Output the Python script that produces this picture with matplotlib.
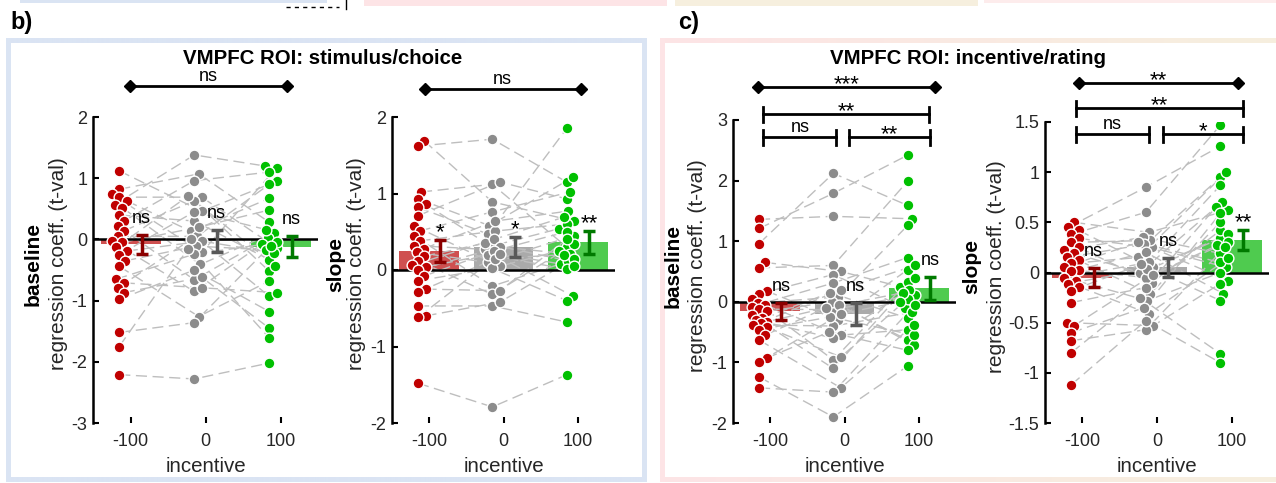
import numpy as np
import matplotlib.pyplot as plt
from matplotlib.transforms import blended_transform_factory

plt.rcParams['font.family'] = ['Liberation Sans', 'DejaVu Sans']

W, H = 1276, 483

# x categories
incentive = [-100, 0, 100]
incentive_labels = ['-100', '0', '100']

# b) VMPFC ROI stimulus/choice, baseline coefficient per subject (t-val)
stim_base_neg = [1.12, 0.82, 0.74, 0.69, 0.63, 0.57, 0.52, 0.4, 0.3, 0.22, 0.14, 0.05, -0.03, -0.05,
                 -0.13, -0.19, -0.25, -0.35, -0.44, -0.65, -0.71, -0.79, -0.87, -0.98, -1.52, -1.75, -2.21]
stim_base_neu = [0.46, 1.07, -0.21, 0.69, 0.13, 1.38, -0.41, 0.3, 0.96, -0.66, 0.63, 0.05, -0.85, 0.2,
                 0.71, -0.03, 0.45, -0.11, -1.26, -0.24, -0.79, 0.0, -0.62, -0.5, -1.36, -0.15, -2.28]
stim_base_pos = [0.95, 0.28, 1.17, -0.14, 0.67, 1.2, 0.11, -0.33, 1.1, 0.02, -0.52, 0.9, -0.08, 0.48,
                 -0.43, -0.93, 0.16, -0.17, -0.68, -0.05, -0.87, -0.22, -1.45, -1.18, -0.1, -1.61, -2.02]
stim_base_mean = [-0.08, -0.03, -0.12]
stim_base_sem = [0.16, 0.18, 0.17]
stim_base_sig = ['ns', 'ns', 'ns']

# b) slope coefficient
stim_slope_neg = [1.69, 1.62, 1.02, 0.93, 0.86, 0.82, 0.71, 0.58, 0.51, 0.45, 0.38, 0.32, 0.28, 0.23,
                  0.18, 0.12, 0.06, 0.04, 0.0, -0.08, -0.14, -0.25, -0.29, -0.47, -0.6, -0.62, -1.48]
stim_slope_neu = [0.89, 1.71, 1.12, 0.58, 0.31, 0.47, 1.15, 0.05, 0.76, -0.21, 0.51, 0.27, 0.64, 0.1,
                  0.35, -0.32, 0.4, 0.2, 0.3, 0.25, 0.02, -0.27, 0.15, -0.47, -0.42, 0.21, -1.79]
stim_slope_pos = [0.64, 1.15, 0.3, 1.21, 0.54, 1.85, 0.93, 0.25, 1.02, 0.08, 0.6, -0.34, 0.77, 0.45,
                  0.12, 0.34, 0.69, 0.01, 0.21, 0.5, -0.4, 0.4, 0.2, -0.68, 0.15, 0.05, -1.37]
stim_slope_mean = [0.245, 0.3, 0.36]
stim_slope_sem = [0.145, 0.135, 0.145]
stim_slope_sig = ['*', '*', '**']

# c) VMPFC ROI incentive/rating, baseline coefficient
rate_base_neg = [1.36, 1.21, 0.96, 0.65, 0.56, 0.18, 0.13, 0.05, -0.02, -0.05, -0.08, -0.12, -0.16, -0.22,
                 -0.27, -0.3, -0.33, -0.35, -0.38, -0.42, -0.46, -0.55, -0.63, -0.93, -1.0, -1.24, -1.42]
rate_base_neu = [1.41, 1.79, 2.12, 0.5, 0.6, -0.3, 0.45, -0.96, 0.08, -0.55, 0.31, -0.13, 0.0, -1.1,
                 0.15, -0.6, -0.05, 0.2, -0.4, -0.91, -0.25, -0.1, -1.42, -0.5, -0.2, -1.9, -1.49]
rate_base_pos = [1.37, 2.42, 1.59, 0.25, 1.99, 0.53, -0.1, 0.33, 1.26, -0.46, 0.73, 0.12, -0.63, 0.4,
                 -0.27, 0.2, -0.71, 0.6, -0.17, 0.05, -0.55, 0.15, -0.38, -0.8, 0.0, -1.06, -0.05]
rate_base_mean = [-0.16, -0.2, 0.22]
rate_base_sem = [0.14, 0.18, 0.19]
rate_base_sig = ['ns', 'ns', 'ns']

# c) slope coefficient
rate_slope_neg = [0.5, 0.45, 0.42, 0.38, 0.34, 0.3, 0.25, 0.22, 0.19, 0.15, 0.12, 0.09, 0.05, 0.02,
                  0.01, -0.05, -0.08, -0.11, -0.14, -0.18, -0.3, -0.5, -0.53, -0.6, -0.68, -0.8, -1.12]
rate_slope_neu = [0.4, 0.85, 0.05, 0.6, 0.25, 0.32, -0.1, 0.35, 0.0, 0.28, -0.21, 0.15, 0.3, -0.05,
                  0.2, 0.1, -0.28, 0.03, -0.41, 0.08, -0.15, -0.53, -0.02, -0.35, -0.57, -0.25, -0.48]
rate_slope_pos = [0.62, 1.26, 0.34, 1.47, 0.05, 0.95, 0.42, 0.19, 0.7, -0.08, 0.5, 1.0, 0.1, 0.27,
                  -0.21, 0.87, 0.0, 0.38, 0.14, -0.28, 0.65, -0.11, 0.3, 0.59, 0.25, -0.81, -0.9]
rate_slope_mean = [-0.05, 0.05, 0.32]
rate_slope_sem = [0.09, 0.09, 0.1]
rate_slope_sig = ['ns', 'ns', '**']

dot_colors = ['#c00000', '#8c8c8c', '#00c000']
bar_colors = ['#cf5050', '#aaaaaa', '#4fcb4f']
err_colors = ['#8b0000', '#595959', '#007a00']

fig = plt.figure(figsize=(W / 100, H / 100), dpi=100)

# background layer in pixel coordinates (frames and strips)
bg = fig.add_axes([0, 0, 1, 1], zorder=-10)
bg.axis('off')

img = np.zeros((H, W, 4))


def frame(x0, x1, y0, y1, t, c_left, c_right, right_edge=True):
    frac = np.linspace(0, 1, x1 - x0)[:, None]
    cols = (1 - frac) * np.array(c_left) / 255 + frac * np.array(c_right) / 255
    for ya, yb in [(y0, y0 + t), (y1 - t, y1)]:
        img[ya:yb, x0:x1, :3] = cols[None, :, :]
        img[ya:yb, x0:x1, 3] = 1
    img[y0:y1, x0:x0 + t, :3] = np.array(c_left) / 255
    img[y0:y1, x0:x0 + t, 3] = 1
    if right_edge:
        img[y0:y1, x1 - t:x1, :3] = np.array(c_right) / 255
        img[y0:y1, x1 - t:x1, 3] = 1


def strip(x0, x1, y0, y1, c):
    img[y0:y1, x0:x1, :3] = np.array(c) / 255
    img[y0:y1, x0:x1, 3] = 1


frame(6, 647, 38, 482, 5, (218, 228, 243), (218, 228, 243))
frame(660, 1276, 38, 482, 5, (253, 228, 230), (246, 239, 222), right_edge=False)
strip(20, 327, 0, 3, (218, 228, 243))
strip(364, 667, 0, 6, (253, 228, 230))
strip(675, 978, 0, 6, (246, 239, 222))
strip(984, 1276, 0, 3, (253, 236, 236))
bg.imshow(img, extent=(0, W, H, 0), interpolation='nearest', aspect='auto')
bg.plot([286, 339], [7, 7], color='k', lw=1, dashes=(3, 3))
bg.plot([346, 346], [0, 9], color='k', lw=1)
bg.set_xlim(0, W)
bg.set_ylim(H, 0)


def swarm_x(ax, xc, ys, min_d=7.5, step=1.5, max_off=7.5):
    p0 = ax.transData.transform((xc, 0))
    p1 = ax.transData.transform((xc + 1, 1))
    sx, sy = p1[0] - p0[0], p1[1] - p0[1]
    py = np.asarray(ys) * sy
    cands = [0.0]
    k = 1
    while k * step <= max_off:
        cands += [k * step, -k * step]
        k += 1
    off = np.zeros(len(ys))
    placed = []
    for i in np.argsort(py):
        best, best_d = 0.0, -1.0
        for c in cands:
            d = min((np.hypot(c - ox, py[i] - oy) for ox, oy in placed), default=1e9)
            if d >= min_d:
                best = c
                break
            if d > best_d:
                best, best_d = c, d
        off[i] = best
        placed.append((best, py[i]))
    return xc + off / sx


def draw_panel(box, ylim, yticks, ylabels, groups, means, sems, sig, name, lab_x):
    left, top, right, bottom = box
    ax = fig.add_axes([left / W, 1 - bottom / H, (right - left) / W, (bottom - top) / H])
    ax.set_xlim(-150, 150)
    ax.set_ylim(*ylim)
    ax.patch.set_alpha(0)
    for s in ['top', 'right', 'bottom']:
        ax.spines[s].set_visible(False)
    ax.spines['left'].set_linewidth(1.8)
    ax.set_xticks(incentive)
    ax.set_xticklabels(incentive_labels)
    ax.set_yticks(yticks)
    ax.set_yticklabels(ylabels)
    ax.tick_params(direction='in', length=4, width=1.5, labelsize=13, labelcolor='#262626')
    ax.tick_params(axis='y', pad=4)
    ax.tick_params(axis='x', pad=7)
    ax.set_xlabel('incentive', fontsize=14.8, labelpad=5, color='#262626')

    ax.bar(incentive, means, width=80, color=bar_colors, zorder=1)
    ax.axhline(0, color='k', lw=1.8, zorder=2.5)
    xs = [swarm_x(ax, x - 15, g) for x, g in zip(incentive, groups)]
    for i in range(len(groups[0])):
        ax.plot([xs[0][i], xs[1][i], xs[2][i]], [groups[0][i], groups[1][i], groups[2][i]],
                color='#bebebe', lw=1, dashes=(8, 4), zorder=2)
    for x, g, c in zip(xs, groups, dot_colors):
        ax.scatter(x, g, s=60, color=c, edgecolors='white', linewidths=1, zorder=3)
    for x, m, e, c, t in zip(incentive, means, sems, err_colors, sig):
        ax.errorbar(x + 15, m, yerr=e, fmt='none', ecolor=c, elinewidth=2.5,
                    capsize=4.5, capthick=2.5, zorder=4)
        ax.annotate(t, (x + 15, m + e), xytext=(0, 12 if t == 'ns' else 2),
                    textcoords='offset pixels', ha='center', va='baseline',
                    fontsize=13 if t == 'ns' else 16, zorder=5)

    yc = (top + bottom) / 2 - 6
    fig.text(lab_x[0] / W, 1 - yc / H, name, rotation=90, ha='center', va='center',
             fontsize=15, fontweight='bold')
    fig.text(lab_x[1] / W, 1 - yc / H, 'regression coeff. (t-val)', rotation=90,
             ha='center', va='center', fontsize=15, color='#262626')
    return ax


def bracket(ax, x1, x2, y, text, kind):
    tr = blended_transform_factory(ax.transData, bg.transData)
    ax.plot([x1, x2], [y, y], color='k', lw=2, transform=tr, clip_on=False, zorder=6)
    if kind == 'diamond':
        ax.plot([x1, x2], [y, y], ls='none', marker='D', ms=6, color='k',
                transform=tr, clip_on=False, zorder=6)
    else:
        for x in (x1, x2):
            ax.plot([x, x], [y - 7, y + 8], color='k', lw=2, transform=tr,
                    clip_on=False, zorder=6)
    stars = text != 'ns'
    ax.text((x1 + x2) / 2, y - (-3 if stars else 5), text, transform=tr, ha='center',
            va='baseline', fontsize=16 if stars else 13, zorder=6)


ax1 = draw_panel((93, 117, 318, 423), (-3, 2), [-3, -2, -1, 0, 1, 2],
                 ['-3', '-2', '-1', '0', '1', '2'],
                 [stim_base_neg, stim_base_neu, stim_base_pos],
                 stim_base_mean, stim_base_sem, stim_base_sig, 'baseline', (33, 58))
ax2 = draw_panel((392, 117, 615, 423), (-2, 2), [-2, -1, 0, 1, 2],
                 ['-2', '-1', '0', '1', '2'],
                 [stim_slope_neg, stim_slope_neu, stim_slope_pos],
                 stim_slope_mean, stim_slope_sem, stim_slope_sig, 'slope', (336, 357))
ax3 = draw_panel((733, 120, 956, 423), (-2, 3), [-2, -1, 0, 1, 2, 3],
                 ['-2', '-1', '0', '1', '2', '3'],
                 [rate_base_neg, rate_base_neu, rate_base_pos],
                 rate_base_mean, rate_base_sem, rate_base_sig, 'baseline', (673, 697))
ax4 = draw_panel((1045, 122, 1269, 423), (-1.5, 1.5), [-1.5, -1, -0.5, 0, 0.5, 1, 1.5],
                 ['-1.5', '-1', '-0.5', '0', '0.5', '1', '1.5'],
                 [rate_slope_neg, rate_slope_neu, rate_slope_pos],
                 rate_slope_mean, rate_slope_sem, rate_slope_sig, 'slope', (972, 996))

bracket(ax1, -101, 108, 86, 'ns', 'diamond')
bracket(ax2, -106, 104, 89, 'ns', 'diamond')
bracket(ax3, -117, 122, 87, '***', 'diamond')
bracket(ax3, -110, 114, 114, '**', 'cap')
bracket(ax3, -109, -11, 137, 'ns', 'cap')
bracket(ax3, 6, 115, 137, '**', 'cap')
bracket(ax4, -105, 108, 83, '**', 'diamond')
bracket(ax4, -109, 115, 108, '**', 'cap')
bracket(ax4, -109, -11, 134, 'ns', 'cap')
bracket(ax4, 8, 115, 134, '*', 'cap')

fig.text(323 / W, 1 - 58 / H, 'VMPFC ROI: stimulus/choice', ha='center', va='center',
         fontsize=14.7, fontweight='bold')
fig.text(968 / W, 1 - 58 / H, 'VMPFC ROI: incentive/rating', ha='center', va='center',
         fontsize=14.7, fontweight='bold')
fig.text(10 / W, 1 - 22 / H, 'b)', ha='left', va='center', fontsize=17, fontweight='bold')
fig.text(678 / W, 1 - 22 / H, 'c)', ha='left', va='center', fontsize=17, fontweight='bold')

fig.savefig('out.png', dpi=100)
